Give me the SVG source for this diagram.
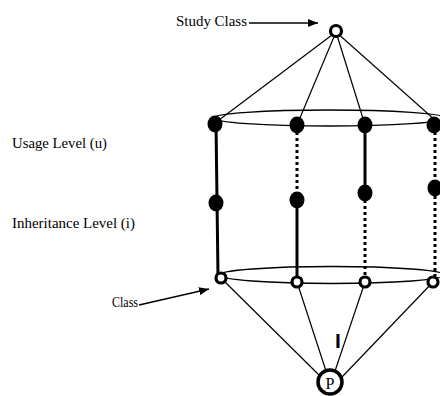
<svg xmlns="http://www.w3.org/2000/svg" width="440" height="396" viewBox="0 0 440 396">
  <style>
    .lbl { font-family: "Liberation Serif", "Times New Roman", serif; font-size: 14.5px; fill: #000; }
    .thin { stroke: #000; stroke-width: 1.2; fill: none; }
    .ring { stroke: #000; stroke-width: 1.3; fill: none; }
    .solid { stroke: #000; stroke-width: 3; fill: none; }
    .dotted { stroke: #000; stroke-width: 3; stroke-dasharray: 3 3; fill: none; }
    .open { fill: #fff; stroke: #000; stroke-width: 3.2; }
    .full { fill: #000; stroke: none; }
  </style>
  <defs>
    <marker id="head" viewBox="0 0 10 8" refX="10" refY="4" markerWidth="10" markerHeight="8" markerUnits="userSpaceOnUse" orient="auto">
      <path d="M0,0 L10,4 L0,8 Z" fill="#000"/>
    </marker>
  </defs>

  <rect width="440" height="396" fill="#fff"/>

  <g id="connectors">
    <!-- fan from the study class down to the usage ring -->
    <line class="thin" x1="336" y1="32" x2="215" y2="123"/>
    <line class="thin" x1="336" y1="32" x2="297" y2="125"/>
    <line class="thin" x1="336" y1="32" x2="365" y2="125"/>
    <line class="thin" x1="336" y1="32" x2="435" y2="120"/>
    <!-- usage and class rings -->
    <ellipse class="ring" cx="329" cy="118" rx="116" ry="8"/>
    <ellipse class="ring" cx="332" cy="275" rx="113" ry="8.5"/>
    <!-- column 1 -->
    <line class="solid" x1="216" y1="123" x2="218" y2="276"/>
    <!-- column 2 -->
    <line class="dotted" x1="297" y1="132" x2="297" y2="194"/>
    <line class="solid" x1="297" y1="200" x2="297" y2="282"/>
    <!-- column 3 -->
    <line class="solid" x1="365" y1="125" x2="365" y2="193"/>
    <line class="dotted" x1="365" y1="200" x2="365" y2="276"/>
    <!-- column 4 -->
    <line class="dotted" x1="435" y1="132" x2="435" y2="182"/>
    <line class="dotted" x1="435" y1="196" x2="435" y2="276"/>
    <!-- fan from the class ring down to P -->
    <line class="thin" x1="221" y1="278" x2="320" y2="376"/>
    <line class="thin" x1="297" y1="282" x2="326" y2="371"/>
    <line class="thin" x1="365" y1="282" x2="335" y2="371"/>
    <line class="thin" x1="433" y1="282" x2="342" y2="377"/>
    <!-- label pointers -->
    <line x1="249" y1="23" x2="318" y2="23" stroke="#000" stroke-width="1.3" marker-end="url(#head)"/>
    <line x1="139" y1="305" x2="209" y2="289" stroke="#000" stroke-width="1.3" marker-end="url(#head)"/>
  </g>

  <g id="study-class">
    <circle class="open" cx="336" cy="31" r="5.5"/>
    <text class="lbl" x="176" y="26" textLength="71" lengthAdjust="spacingAndGlyphs">Study Class</text>
  </g>

  <g id="usage-nodes">
    <ellipse class="full" cx="215" cy="124" rx="7.5" ry="8.5"/>
    <ellipse class="full" cx="297" cy="125" rx="7.5" ry="8.5"/>
    <ellipse class="full" cx="365" cy="125" rx="7.5" ry="8.5"/>
    <ellipse class="full" cx="434" cy="125" rx="7.5" ry="8.5"/>
  </g>

  <g id="inheritance-nodes">
    <ellipse class="full" cx="216" cy="203" rx="7.5" ry="8.5"/>
    <ellipse class="full" cx="297" cy="200" rx="7.5" ry="8.5"/>
    <ellipse class="full" cx="365" cy="193" rx="7.5" ry="8.5"/>
    <ellipse class="full" cx="435" cy="188" rx="7.5" ry="8.5"/>
  </g>

  <g id="class-nodes">
    <circle class="open" cx="221" cy="278" r="5"/>
    <circle class="open" cx="297" cy="282" r="5"/>
    <circle class="open" cx="365" cy="282" r="5"/>
    <circle class="open" cx="433" cy="282" r="5"/>
    <text class="lbl" x="112" y="307" textLength="26" lengthAdjust="spacingAndGlyphs">Class</text>
  </g>

  <g id="p-node">
    <circle cx="330" cy="382" r="12" fill="#fff" stroke="#000" stroke-width="3.5"/>
    <text x="330" y="389" text-anchor="middle" font-family="Liberation Serif, serif" font-size="16" fill="#000">P</text>
  </g>

  <g id="i-mark">
    <text x="338" y="348" text-anchor="middle" font-family="Liberation Sans, Arial, sans-serif" font-size="21" font-weight="bold" fill="#000">I</text>
  </g>

  <g id="level-labels">
    <text class="lbl" x="12" y="148" textLength="95" lengthAdjust="spacingAndGlyphs">Usage Level (u)</text>
    <text class="lbl" x="12" y="228" textLength="123" lengthAdjust="spacingAndGlyphs">Inheritance Level (i)</text>
  </g>
</svg>
